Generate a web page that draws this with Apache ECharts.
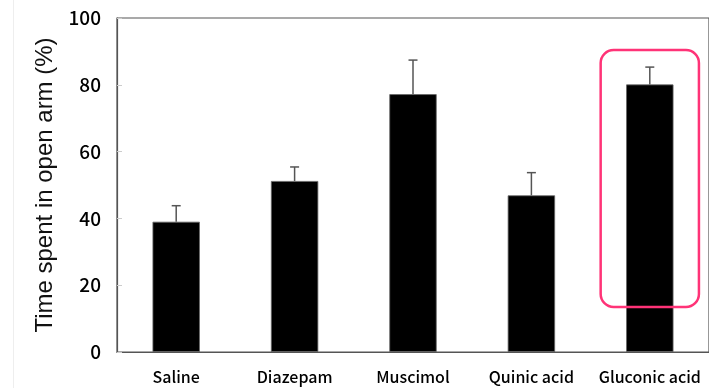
<!DOCTYPE html>
<html><head><meta charset="utf-8">
<script src="https://cdn.jsdelivr.net/npm/echarts@6/dist/echarts.min.js"></script>
<style>html,body{margin:0;padding:0;background:#fff}#c{width:709px;height:388px}</style>
</head><body><div id="c"></div>
<script>
const categories = ['Saline', 'Diazepam', 'Muscimol', 'Quinic acid', 'Gluconic acid'];
const means = [39.0, 51.2, 77.2, 46.9, 80.1];
const errorTops = [43.8, 55.4, 87.4, 53.7, 85.3];
const yTicks = [0, 20, 40, 60, 80, 100];
const highlight = ['Gluconic acid', 13.5, 90.4];

const chart = echarts.init(document.getElementById('c'));
chart.setOption({
  animation: false,
  graphic: [{type: 'line', shape: {x1: 13.5, y1: 0, x2: 13.5, y2: 388}, style: {stroke: '#eeeeee', lineWidth: 1}}],
  grid: {left: 117, right: -3, top: 18, bottom: 36, show: true, borderColor: '#555', borderWidth: 1.2, backgroundColor: 'transparent'},
  xAxis: {
    type: 'category', data: categories,
    axisLine: {lineStyle: {color: '#555', width: 1.2}},
    axisTick: {inside: true, length: 5, lineStyle: {color: '#ccc'}},
    axisLabel: {interval: 0, color: '#000', fontSize: 16, fontWeight: 500, fontFamily: 'Noto Sans CJK JP', margin: 17}
  },
  yAxis: {
    type: 'value', min: yTicks[0], max: yTicks[yTicks.length - 1], interval: 20,
    splitLine: {show: false},
    axisLine: {show: true, lineStyle: {color: '#555', width: 1.2}},
    axisTick: {show: true, inside: true, length: 5, lineStyle: {color: '#ccc'}},
    axisLabel: {color: '#000', fontSize: 19, fontWeight: 500, fontFamily: 'Noto Sans CJK JP', margin: 16},
    name: 'Time spent in open arm (%)', nameLocation: 'middle', nameGap: 56,
    nameTextStyle: {color: '#111', fontSize: 24, fontFamily: 'Liberation Sans'}
  },
  series: [
    {type: 'bar', data: means, barWidth: '40%', itemStyle: {color: '#000', borderColor: '#666', borderWidth: 0.8}},
    {type: 'custom', data: categories.map((c, i) => [i, means[i], errorTops[i]]),
      renderItem: function (params, api) {
        const b = api.coord([api.value(0), api.value(1)]);
        const t = api.coord([api.value(0), api.value(2)]);
        const cap = 4.5;
        return {type: 'group', children: [
          {type: 'line', shape: {x1: b[0], y1: b[1], x2: t[0], y2: t[1]}, style: {stroke: '#555', lineWidth: 1.5}},
          {type: 'line', shape: {x1: t[0] - cap, y1: t[1], x2: t[0] + cap, y2: t[1]}, style: {stroke: '#555', lineWidth: 1.5}}
        ]};
      }, z: 3},
    {type: 'custom', data: [[categories.indexOf(highlight[0]), highlight[1], highlight[2]]],
      renderItem: function (params, api) {
        const bw = api.size([1, 0])[0];
        const lo = api.coord([api.value(0), api.value(1)]);
        const hi = api.coord([api.value(0), api.value(2)]);
        const hw = bw * 0.415;
        return {type: 'rect', shape: {x: lo[0] - hw, y: hi[1], width: hw * 2, height: lo[1] - hi[1], r: 13},
          style: {fill: 'none', stroke: '#ff3377', lineWidth: 2.5}};
      }, z: 5}
  ]
});
</script></body></html>
